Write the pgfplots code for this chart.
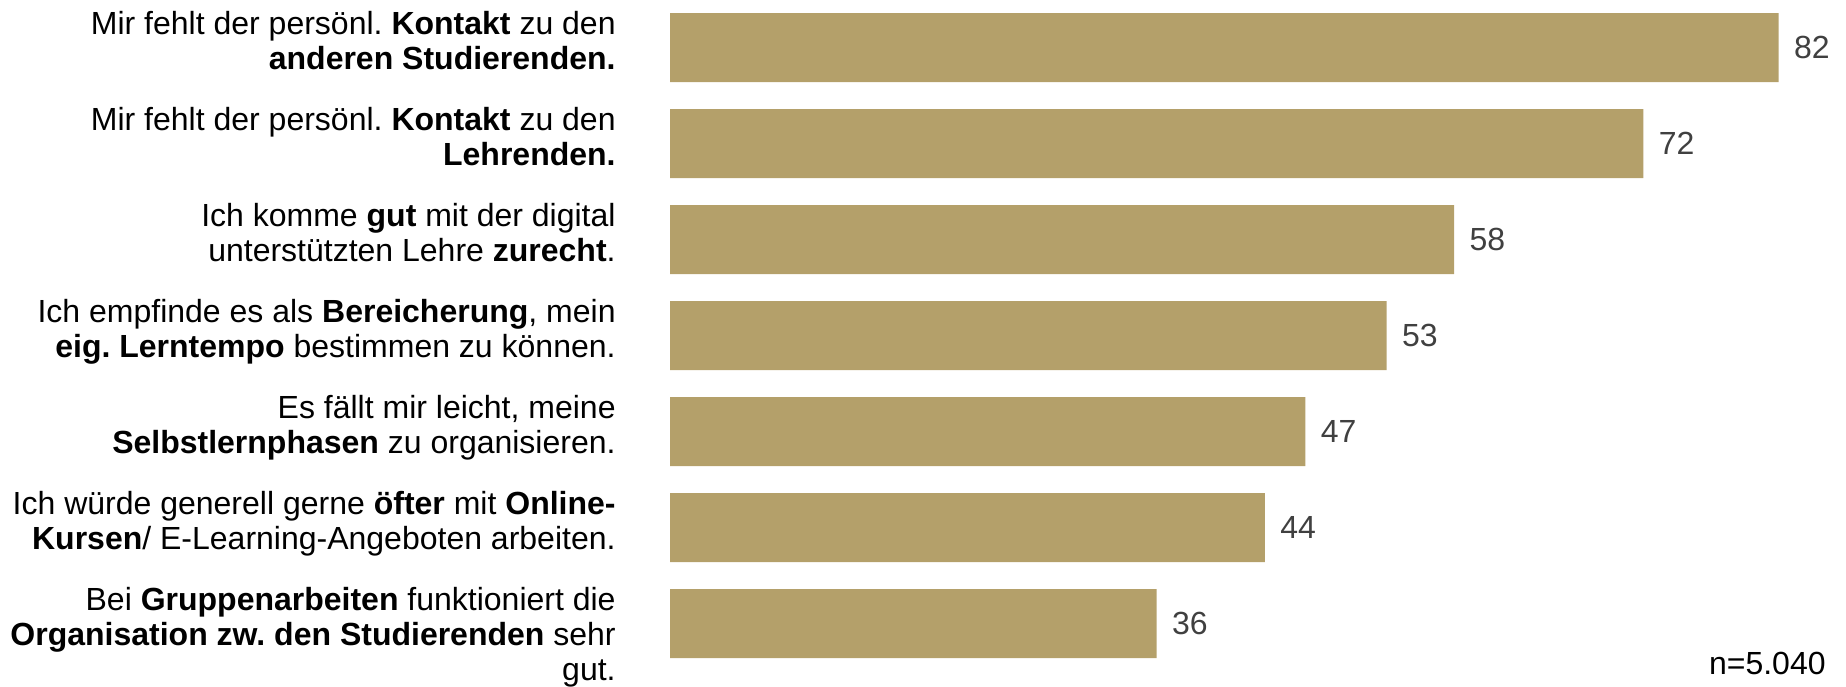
\documentclass[border=0pt]{standalone}
\usepackage{fontspec}
\setmainfont{Liberation Sans}
\usepackage{pgfplots}
\pgfplotsset{compat=1.18}
\definecolor{barkhaki}{RGB}{180,160,106}
\definecolor{valgray}{RGB}{64,64,64}
\frenchspacing
\begin{document}
\begin{tikzpicture}
\begin{axis}[
    at={(335pt,7.25pt)}, anchor=south west,
    xbar,
    scale only axis,
    width=578pt, height=336pt,
    xmin=0, xmax=85.5,
    ymin=-0.5, ymax=6.5,
    y dir=reverse,
    bar width=34.5pt,
    axis line style={draw=none},
    major tick length=0pt,
    tick style={draw=none},
    xtick=\empty,
    ytick={0,1,2,3,4,5,6},
    yticklabels={
        {Mir fehlt der persönl. \textbf{Kontakt} zu den\\\textbf{anderen Studierenden.}},
        {Mir fehlt der persönl. \textbf{Kontakt} zu den\\\textbf{Lehrenden.}},
        {Ich komme \textbf{gut} mit der digital\\unterstützten Lehre \textbf{zurecht}.},
        {Ich empfinde es als \textbf{Bereicherung}, mein\\\textbf{eig. Lerntempo} bestimmen zu können.},
        {Es fällt mir leicht, meine\\\textbf{Selbstlernphasen} zu organisieren.},
        {Ich würde generell gerne \textbf{öfter} mit \textbf{Online-}\\\textbf{Kursen}/ E-Learning-Angeboten arbeiten.},
        {Bei \textbf{Gruppenarbeiten} funktioniert die\\\textbf{Organisation zw. den Studierenden} sehr\\gut.}
    },
    yticklabel style={align=right, anchor=north east, inner sep=0pt,
        xshift=-27pt, yshift=18.25pt,
        font=\fontsize{16}{17.5}\selectfont},
    clip=false,
    nodes near coords,
    /pgf/number format/assume math mode=true,
    nodes near coords style={anchor=west, inner sep=0pt, xshift=7.5pt,
        text=valgray, font=\fontsize{16}{18}\selectfont},
]
\addplot[fill=barkhaki, draw=none] coordinates {
    (82,0) (72,1) (58,2) (53,3) (47,4) (44,5) (36,6)
};
\node[anchor=base east, inner sep=0pt, font=\fontsize{16}{18}\selectfont]
    at (axis cs:85.5,6.5) [yshift=-1.25pt] {n=5.040};
\end{axis}
\pgfresetboundingbox
\path (0,0) rectangle (923pt,343pt);
\end{tikzpicture}
\end{document}
